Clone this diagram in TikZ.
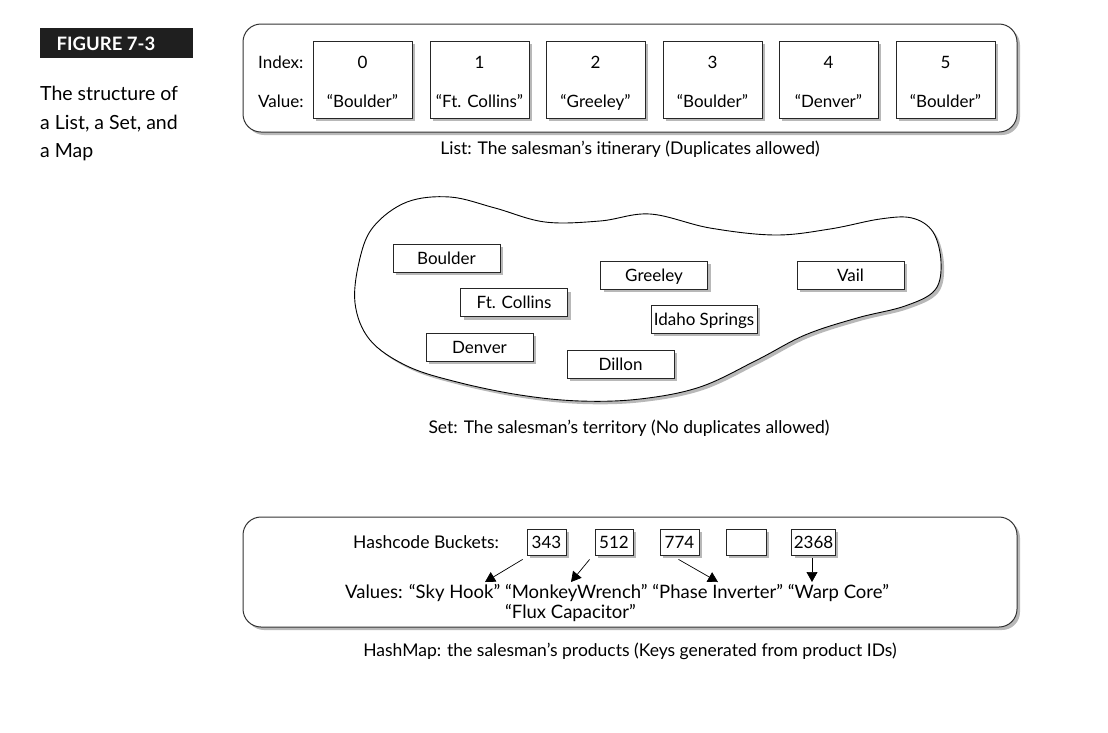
\documentclass[tikz,border=0pt]{standalone}
\usepackage{fontspec}
\setmainfont{Lato}
\usetikzlibrary{shadows,arrows.meta}
\begin{document}
\begin{tikzpicture}[x=1pt,y=-1pt,
  shad/.style={drop shadow={shadow xshift=3pt,shadow yshift=-3pt,fill=black!28,opacity=1}},
  outer/.style={draw=black!80,line width=1pt,rounded corners=18pt,fill=white,shad},
  cell/.style={draw=black!85,line width=0.8pt,fill=white,shad,minimum width=99pt,minimum height=77pt,inner sep=0pt},
  setbox/.style={draw=black!85,line width=0.8pt,fill=white,shad,minimum width=107pt,minimum height=28pt,inner sep=0pt,text height=12pt,text depth=0pt,font=\fontsize{17}{19}\selectfont},
  bucket/.style={draw=black!85,line width=0.8pt,fill=white,shad,minimum height=26pt,inner sep=2pt,text height=12pt,text depth=0pt,font=\fontsize{17}{19}\selectfont},
  txt/.style={inner sep=0pt,text height=12pt,text depth=0pt,font=\fontsize{17}{20}\selectfont},
  vtxt/.style={inner sep=0pt,text height=13pt,text depth=0pt,font=\fontsize{18.5}{21}\selectfont},
  captxt/.style={inner sep=0pt,text height=12.5pt,text depth=0pt,font=\fontsize{17.5}{20}\selectfont},
  arr/.style={line width=0.7pt,-{Triangle[width=11pt,length=10pt]}}
]
\useasboundingbox (0,0) rectangle (1108,732);
% Figure label
\node[fill=black!88,minimum width=153pt,minimum height=30pt,inner sep=0pt] (fig) at (116.5,43) {};
\node[text=white,inner sep=0pt,text height=13pt,text depth=0pt,font=\fontsize{18.5}{20}\selectfont\bfseries] (figt) at (106,44) {FIGURE 7-3};
\node[anchor=north west,align=left,inner sep=0pt,font=\fontsize{19.5}{28.5}\selectfont] (figcap) at (40,86) {The structure of\\a List, a Set, and\\a Map};

% List
\path[outer] (243,24) rectangle (1017,132);
\node[txt,anchor=west] (idx) at (258,62) {Index:};
\node[txt,anchor=west] (val) at (258,101) {Value:};
\foreach \i/\x/\v in {0/362.5/“Boulder”,1/479.5/“Ft. Collins”,2/595.5/“Greeley”,3/712.5/“Boulder”,4/828.5/“Denver”,5/945.5/“Boulder”}{
  \node[cell] (c\i) at (\x,79.5) {};
  \node[txt] (ci\i) at (\x,62) {\i};
  \node[txt] (cv\i) at (\x,101) {\v};
}
\node[captxt] (listcap) at (630,148) {List: The salesman’s itinerary (Duplicates allowed)};

% Set
\draw[line width=0.9pt,fill=white,shad] plot[smooth cycle,tension=0.6] coordinates {
 (407,202) (450,197) (495,208) (545,222) (600,221) (650,214) (710,228) (775,235)
 (830,229) (880,219) (912,218) (933,232) (941,262) (935,290) (905,306) (857,318)
 (805,335) (757,360) (700,387) (640,399) (580,401) (520,395) (457,382) (407,366)
 (370,340) (355,303) (360,258) (374,226)};
\node[setbox] (sBoulder) at (446.5,258) {Boulder};
\node[setbox] (sGreeley) at (654,275) {Greeley};
\node[setbox] (sVail) at (850.5,275) {Vail};
\node[setbox] (sFt) at (514,302.5) {Ft. Collins};
\node[setbox,minimum width=106pt] (sIdaho) at (704,319) {Idaho Springs};
\node[setbox] (sDenver) at (479.5,347) {Denver};
\node[setbox] (sDillon) at (620.5,364) {Dillon};
\node[captxt] (setcap) at (629,427) {Set: The salesman’s territory (No duplicates allowed)};

% HashMap
\path[outer] (243,517) rectangle (1017,627);
\node[txt,anchor=west,font=\fontsize{17.5}{20}\selectfont] (hb) at (353,542) {Hashcode Buckets:};
\node[bucket,minimum width=39pt] (b343) at (546.5,542) {343};
\node[bucket,minimum width=38pt] (b512) at (614,542) {512};
\node[bucket,minimum width=39pt] (b774) at (679.5,542) {774};
\node[bucket,minimum width=40pt] (bempty) at (746,542) {};
\node[bucket,minimum width=43pt] (b2368) at (813.5,542) {2368};
\node[vtxt,anchor=west] (vals) at (345,592) {Values: “Sky Hook” “MonkeyWrench” “Phase Inverter” “Warp Core”};
\node[vtxt,anchor=west] (flux) at (505,612) {“Flux Capacitor”};
\coordinate (t1) at (485,582);
\coordinate (t2) at (571,582);
\coordinate (t3) at (718,582);
\coordinate (t4) at (812,582);
\draw[arr] ([xshift=-4pt,yshift=-4pt]b343.south west) -- (t1);
\draw[arr] ([xshift=-5pt,yshift=-4pt]b512.south west) -- (t2);
\draw[arr] ([xshift=-1pt,yshift=-4pt]b774.south) -- (t3);
\draw[arr] ([xshift=-1.5pt,yshift=-3pt]b2368.south) -- (t4);
\node[captxt] (hashcap) at (630,650) {HashMap: the salesman’s products (Keys generated from product IDs)};
\end{tikzpicture}
\end{document}
